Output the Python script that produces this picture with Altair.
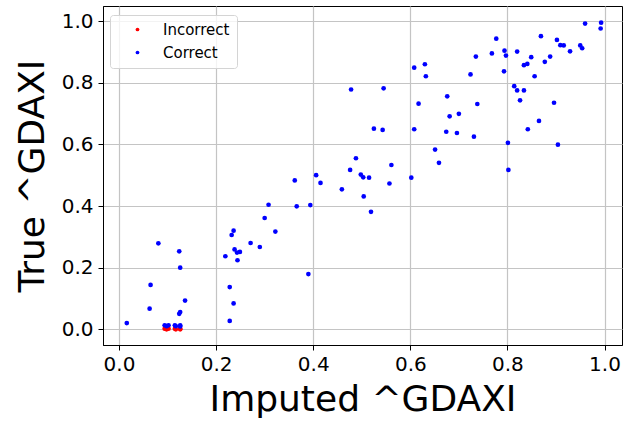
import altair as alt
import pandas as pd

# Correct points (imputed vs true)
correct_x = [0.608, 0.630, 0.632, 0.478, 0.545, 0.676, 0.617, 0.681, 0.525, 0.543,
             0.608, 0.674, 0.651, 0.488, 0.561, 0.659, 0.476, 0.498, 0.406, 0.960,
             0.993, 0.992, 0.777, 0.869, 0.902, 0.909, 0.916, 0.950, 0.954, 0.929,
             0.735, 0.768, 0.794, 0.797, 0.820, 0.849, 0.888, 0.877, 0.834, 0.841,
             0.724, 0.793, 0.856, 0.814, 0.820, 0.834, 0.826, 0.738, 0.896, 0.700,
             0.865, 0.842, 0.696, 0.731, 0.801, 0.904, 0.802, 0.308, 0.300, 0.322,
             0.236, 0.232, 0.271, 0.290, 0.238, 0.243, 0.249, 0.219, 0.244, 0.081,
             0.124, 0.126, 0.065, 0.228, 0.136, 0.236, 0.063, 0.126, 0.124, 0.228,
             0.016, 0.362, 0.415, 0.503, 0.515, 0.459, 0.557, 0.602, 0.504, 0.519,
             0.366, 0.394, 0.390,
             0.094, 0.098, 0.102, 0.115, 0.117, 0.126, 0.126]
correct_y = [0.849, 0.860, 0.821, 0.778, 0.782, 0.756, 0.732, 0.691, 0.651, 0.647,
             0.649, 0.641, 0.583, 0.555, 0.533, 0.540, 0.517, 0.502, 0.500, 0.992,
             0.995, 0.976, 0.943, 0.951, 0.939, 0.922, 0.921, 0.921, 0.912, 0.902,
             0.885, 0.895, 0.904, 0.888, 0.901, 0.883, 0.885, 0.868, 0.857, 0.861,
             0.827, 0.837, 0.821, 0.789, 0.775, 0.775, 0.743, 0.731, 0.735, 0.699,
             0.676, 0.649, 0.637, 0.625, 0.605, 0.599, 0.517, 0.404, 0.361, 0.317,
             0.320, 0.306, 0.280, 0.267, 0.259, 0.249, 0.251, 0.237, 0.224, 0.279,
             0.253, 0.200, 0.144, 0.137, 0.093, 0.084, 0.067, 0.056, 0.050, 0.027,
             0.020, 0.483, 0.475, 0.493, 0.492, 0.454, 0.473, 0.492, 0.431, 0.381,
             0.399, 0.403, 0.179,
             0.013, 0.010, 0.013, 0.013, 0.010, 0.013, 0.009]

# Incorrect points
incorrect_x = [0.094, 0.098, 0.102, 0.115, 0.117, 0.126, 0.126]
incorrect_y = [0.002, 0.000, 0.002, 0.002, 0.000, 0.002, 0.000]

categories = ["Incorrect", "Correct"]
colors = ["#ff0000", "#0000ff"]

rows = []
for x, y in zip(incorrect_x, incorrect_y):
    rows.append({"imputed": x, "true": y, "kind": "Incorrect"})
for x, y in zip(correct_x, correct_y):
    rows.append({"imputed": x, "true": y, "kind": "Correct"})
df = pd.DataFrame(rows)

ticks = [0.0, 0.2, 0.4, 0.6, 0.8, 1.0]
FONT = "DejaVu Sans"

chart = alt.Chart(df).mark_circle(size=22, opacity=1).encode(
    x=alt.X("imputed:Q",
            scale=alt.Scale(domain=[-0.033, 1.036], nice=False, zero=False),
            axis=alt.Axis(title="Imputed ^GDAXI", values=ticks, format=".1f",
                          titleFontSize=36, titleFontWeight="normal", titleFont=FONT,
                          titleColor="black", titlePadding=8,
                          labelFontSize=20, labelFont=FONT, labelColor="black",
                          labelPadding=4, tickSize=5, tickColor="black",
                          domainColor="black", gridColor="#c4c4c4", gridWidth=1.2)),
    y=alt.Y("true:Q",
            scale=alt.Scale(domain=[-0.051, 1.049], nice=False, zero=False),
            axis=alt.Axis(title="True ^GDAXI", values=ticks, format=".1f",
                          titleFontSize=36, titleFontWeight="normal", titleFont=FONT,
                          titleColor="black", titlePadding=10,
                          labelFontSize=20, labelFont=FONT, labelColor="black",
                          labelPadding=5, tickSize=5, tickColor="black",
                          domainColor="black", gridColor="#c4c4c4", gridWidth=1.2)),
    color=alt.Color("kind:N",
                    scale=alt.Scale(domain=categories, range=colors),
                    sort=categories,
                    legend=alt.Legend(title=None, orient="none", legendX=7, legendY=9,
                                      labelFont=FONT, labelFontSize=15, labelColor="black",
                                      symbolSize=14, symbolType="circle",
                                      symbolStrokeWidth=0, symbolOffset=13,
                                      labelOffset=18, rowPadding=7, padding=7,
                                      strokeColor="#d4d4d4", fillColor="rgba(255,255,255,0.8)",
                                      cornerRadius=3)),
    order=alt.Order("order:Q"),
).transform_calculate(
    order="datum.kind == 'Incorrect' ? 0 : 1"
).properties(
    width=519, height=339,
    autosize=alt.AutoSizeParams(type="none"),
    padding={"left": 103, "top": 6, "right": 7, "bottom": 78},
).configure_view(
    stroke="black", strokeWidth=1
)

chart.save("out.html", embed_options={"renderer": "svg", "actions": False})
